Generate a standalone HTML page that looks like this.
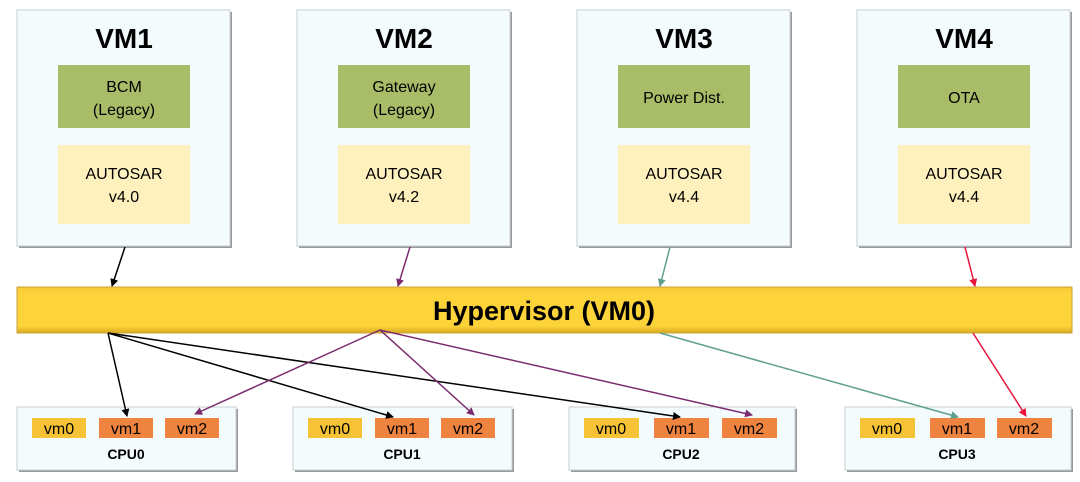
<!DOCTYPE html>
<html><head><style>
body{margin:0;background:#fff;}
svg{display:block;font-family:"Liberation Sans",Arial,sans-serif;}
</style></head><body>
<svg width="1080" height="482" viewBox="0 0 1080 482">
<defs>
<linearGradient id="hv" x1="0" y1="0" x2="0" y2="1">
<stop offset="0" stop-color="#f6c836"/><stop offset="0.15" stop-color="#fdd33a"/><stop offset="0.85" stop-color="#fdd33a"/><stop offset="1" stop-color="#d9a920"/></linearGradient>
<marker id="ak" markerWidth="8" markerHeight="8" refX="7" refY="4" orient="auto" markerUnits="userSpaceOnUse"><path d="M0,0 L8,4 L0,8 z" fill="#000"/></marker>
<marker id="ap" markerWidth="8" markerHeight="8" refX="7" refY="4" orient="auto" markerUnits="userSpaceOnUse"><path d="M0,0 L8,4 L0,8 z" fill="#7b2c6e"/></marker>
<marker id="at" markerWidth="8" markerHeight="8" refX="7" refY="4" orient="auto" markerUnits="userSpaceOnUse"><path d="M0,0 L8,4 L0,8 z" fill="#5fa08e"/></marker>
<marker id="ar" markerWidth="8" markerHeight="8" refX="7" refY="4" orient="auto" markerUnits="userSpaceOnUse"><path d="M0,0 L8,4 L0,8 z" fill="#e8143c"/></marker>
</defs>

<g>
<rect x="19" y="12" width="213" height="236" fill="#999"/>
<rect x="17" y="10" width="213" height="236" fill="#f3fbfd" stroke="#c8cfd2"/>
<text x="124" y="48" font-size="28" font-weight="bold" text-anchor="middle">VM1</text>
<rect x="58" y="65" width="132" height="63" fill="#a9bd69"/>
<text x="124" y="92" font-size="16" text-anchor="middle">BCM</text>
<text x="124" y="115" font-size="16" text-anchor="middle">(Legacy)</text>
<rect x="58" y="145" width="132" height="79" fill="#fff1bd"/>
<text x="124" y="179" font-size="16" text-anchor="middle">AUTOSAR</text>
<text x="124" y="202" font-size="16" text-anchor="middle">v4.0</text>
</g>
<g>
<rect x="299" y="12" width="213" height="236" fill="#999"/>
<rect x="297" y="10" width="213" height="236" fill="#f3fbfd" stroke="#c8cfd2"/>
<text x="404" y="48" font-size="28" font-weight="bold" text-anchor="middle">VM2</text>
<rect x="338" y="65" width="132" height="63" fill="#a9bd69"/>
<text x="404" y="92" font-size="16" text-anchor="middle">Gateway</text>
<text x="404" y="115" font-size="16" text-anchor="middle">(Legacy)</text>
<rect x="338" y="145" width="132" height="79" fill="#fff1bd"/>
<text x="404" y="179" font-size="16" text-anchor="middle">AUTOSAR</text>
<text x="404" y="202" font-size="16" text-anchor="middle">v4.2</text>
</g>
<g>
<rect x="579" y="12" width="213" height="236" fill="#999"/>
<rect x="577" y="10" width="213" height="236" fill="#f3fbfd" stroke="#c8cfd2"/>
<text x="684" y="48" font-size="28" font-weight="bold" text-anchor="middle">VM3</text>
<rect x="618" y="65" width="132" height="63" fill="#a9bd69"/>
<text x="684" y="103" font-size="16" text-anchor="middle">Power Dist.</text>
<rect x="618" y="145" width="132" height="79" fill="#fff1bd"/>
<text x="684" y="179" font-size="16" text-anchor="middle">AUTOSAR</text>
<text x="684" y="202" font-size="16" text-anchor="middle">v4.4</text>
</g>
<g>
<rect x="859" y="12" width="213" height="236" fill="#999"/>
<rect x="857" y="10" width="213" height="236" fill="#f3fbfd" stroke="#c8cfd2"/>
<text x="964" y="48" font-size="28" font-weight="bold" text-anchor="middle">VM4</text>
<rect x="898" y="65" width="132" height="63" fill="#a9bd69"/>
<text x="964" y="103" font-size="16" text-anchor="middle">OTA</text>
<rect x="898" y="145" width="132" height="79" fill="#fff1bd"/>
<text x="964" y="179" font-size="16" text-anchor="middle">AUTOSAR</text>
<text x="964" y="202" font-size="16" text-anchor="middle">v4.4</text>
</g>

<rect x="17" y="287" width="1055" height="46" fill="url(#hv)" stroke="#c9a23a"/>
<text x="544" y="320" font-size="27" font-weight="bold" text-anchor="middle">Hypervisor (VM0)</text>

<g font-size="16">
<g>
<rect x="19" y="409" width="219" height="63" fill="#999"/>
<rect x="17" y="407" width="219" height="63" fill="#f3fbfd" stroke="#c8cfd2"/>
<rect x="32" y="418" width="54" height="20" fill="#f6c236"/><text x="59" y="434" text-anchor="middle">vm0</text>
<rect x="99" y="418" width="54" height="20" fill="#ef8340"/><text x="126" y="434" text-anchor="middle">vm1</text>
<rect x="165" y="418" width="54" height="20" fill="#ef8340"/><text x="192" y="434" text-anchor="middle">vm2</text>
<text x="126" y="459" font-size="14" font-weight="bold" text-anchor="middle">CPU0</text>
</g>
<g>
<rect x="295" y="409" width="219" height="63" fill="#999"/>
<rect x="293" y="407" width="219" height="63" fill="#f3fbfd" stroke="#c8cfd2"/>
<rect x="308" y="418" width="54" height="20" fill="#f6c236"/><text x="335" y="434" text-anchor="middle">vm0</text>
<rect x="375" y="418" width="54" height="20" fill="#ef8340"/><text x="402" y="434" text-anchor="middle">vm1</text>
<rect x="441" y="418" width="54" height="20" fill="#ef8340"/><text x="468" y="434" text-anchor="middle">vm2</text>
<text x="402" y="459" font-size="14" font-weight="bold" text-anchor="middle">CPU1</text>
</g>
<g>
<rect x="571" y="409" width="226" height="63" fill="#999"/>
<rect x="569" y="407" width="226" height="63" fill="#f3fbfd" stroke="#c8cfd2"/>
<rect x="584" y="418" width="55" height="20" fill="#f6c236"/><text x="611" y="434" text-anchor="middle">vm0</text>
<rect x="654" y="418" width="55" height="20" fill="#ef8340"/><text x="681" y="434" text-anchor="middle">vm1</text>
<rect x="722" y="418" width="55" height="20" fill="#ef8340"/><text x="749" y="434" text-anchor="middle">vm2</text>
<text x="681" y="459" font-size="14" font-weight="bold" text-anchor="middle">CPU2</text>
</g>
<g>
<rect x="847" y="409" width="226" height="63" fill="#999"/>
<rect x="845" y="407" width="226" height="63" fill="#f3fbfd" stroke="#c8cfd2"/>
<rect x="860" y="418" width="55" height="20" fill="#f6c236"/><text x="887" y="434" text-anchor="middle">vm0</text>
<rect x="930" y="418" width="55" height="20" fill="#ef8340"/><text x="957" y="434" text-anchor="middle">vm1</text>
<rect x="997" y="418" width="55" height="20" fill="#ef8340"/><text x="1024" y="434" text-anchor="middle">vm2</text>
<text x="957" y="459" font-size="14" font-weight="bold" text-anchor="middle">CPU3</text>
</g>
</g>

<g fill="none" stroke-width="1.5">
<line x1="125" y1="247" x2="112" y2="286" stroke="#000" marker-end="url(#ak)"/>
<line x1="108" y1="333" x2="127" y2="416" stroke="#000" marker-end="url(#ak)"/>
<line x1="108" y1="333" x2="393" y2="417" stroke="#000" marker-end="url(#ak)"/>
<line x1="108" y1="333" x2="680" y2="417" stroke="#000" marker-end="url(#ak)"/>
<line x1="410" y1="247" x2="398" y2="286" stroke="#7b2c6e" marker-end="url(#ap)"/>
<line x1="380" y1="330" x2="195" y2="414" stroke="#7b2c6e" marker-end="url(#ap)"/>
<line x1="380" y1="330" x2="474" y2="415" stroke="#7b2c6e" marker-end="url(#ap)"/>
<line x1="380" y1="330" x2="752" y2="415" stroke="#7b2c6e" marker-end="url(#ap)"/>
<line x1="670" y1="247" x2="660" y2="286" stroke="#5fa08e" marker-end="url(#at)"/>
<line x1="660" y1="333" x2="958" y2="417" stroke="#5fa08e" marker-end="url(#at)"/>
<line x1="965" y1="247" x2="975" y2="286" stroke="#e8143c" marker-end="url(#ar)"/>
<line x1="973" y1="333" x2="1026" y2="416" stroke="#e8143c" marker-end="url(#ar)"/>
</g>
</svg>
</body></html>
